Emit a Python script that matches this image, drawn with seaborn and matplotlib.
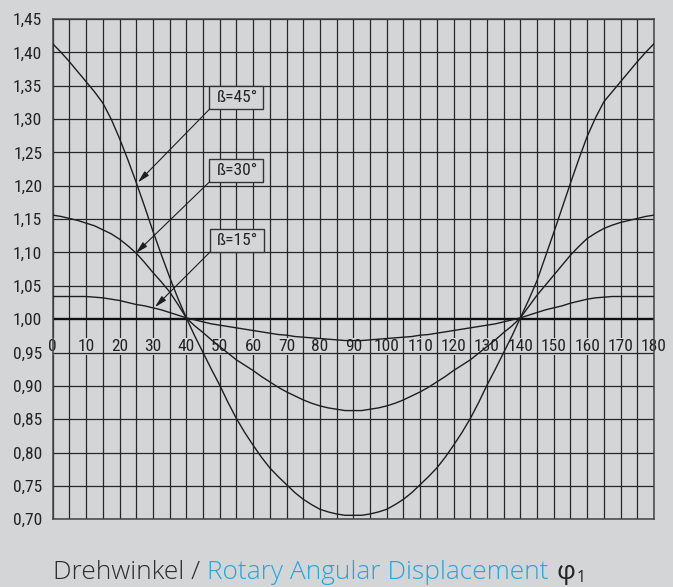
import numpy as np
import pandas as pd
import matplotlib
matplotlib.use("Agg")
import matplotlib.pyplot as plt
from matplotlib import font_manager as fm
from matplotlib.patches import Rectangle
import seaborn as sns

# Drive-shaft angle (degrees), 2.5 degree steps from 0 to 180
phi = [i * 2.5 for i in range(73)]

# Speed ratio for joint angle 45 degrees
ratio_b45 = [1.413, 1.400, 1.386, 1.371, 1.356, 1.341, 1.324, 1.300, 1.271, 1.239,
             1.205, 1.169, 1.132, 1.097, 1.063, 1.031, 1.002, 0.975, 0.950, 0.925,
             0.901, 0.875, 0.851, 0.830, 0.811, 0.793, 0.777, 0.764, 0.752, 0.740,
             0.730, 0.722, 0.715, 0.711, 0.708, 0.706, 0.706,
             0.706, 0.708, 0.711, 0.715, 0.722, 0.730, 0.740, 0.752, 0.764, 0.777,
             0.793, 0.811, 0.830, 0.851, 0.875, 0.901, 0.925, 0.950, 0.975, 1.002,
             1.029, 1.058, 1.094, 1.130, 1.167, 1.204, 1.240, 1.274, 1.302, 1.326,
             1.341, 1.356, 1.371, 1.386, 1.400, 1.413]
# Speed ratio for joint angle 30 degrees
ratio_b30 = [1.156, 1.154, 1.151, 1.148, 1.144, 1.140, 1.134, 1.128, 1.120, 1.110,
             1.099, 1.085, 1.070, 1.056, 1.041, 1.022, 1.002, 0.990, 0.980, 0.969,
             0.959, 0.949, 0.939, 0.931, 0.923, 0.914, 0.906, 0.898, 0.891, 0.885,
             0.879, 0.874, 0.870, 0.867, 0.865, 0.863, 0.863,
             0.863, 0.865, 0.867, 0.870, 0.874, 0.879, 0.885, 0.891, 0.898, 0.906,
             0.914, 0.923, 0.931, 0.939, 0.949, 0.959, 0.969, 0.980, 0.990, 1.002,
             1.019, 1.036, 1.051, 1.066, 1.081, 1.096, 1.109, 1.121, 1.129, 1.136,
             1.141, 1.145, 1.148, 1.151, 1.154, 1.156]
# Speed ratio for joint angle 15 degrees
ratio_b15 = [1.034, 1.034, 1.034, 1.034, 1.034, 1.033, 1.032, 1.030, 1.028, 1.025,
             1.022, 1.020, 1.017, 1.014, 1.010, 1.006, 1.002, 0.999, 0.996, 0.993,
             0.991, 0.989, 0.987, 0.985, 0.983, 0.981, 0.979, 0.977, 0.976, 0.974,
             0.973, 0.972, 0.971, 0.970, 0.969, 0.968, 0.968,
             0.968, 0.969, 0.970, 0.971, 0.972, 0.973, 0.974, 0.976, 0.977, 0.979,
             0.981, 0.983, 0.985, 0.987, 0.989, 0.991, 0.993, 0.996, 0.999, 1.002,
             1.006, 1.010, 1.014, 1.017, 1.020, 1.024, 1.027, 1.030, 1.032, 1.033,
             1.034, 1.034, 1.034, 1.034, 1.034, 1.034]

beta_labels = ["ß=45°", "ß=30°", "ß=15°"]
# label box lower-left corners (deg, ratio) and arrow tips on the curves
label_corner = [(46.9, 1.3146), (46.9, 1.2057), (47.1, 1.1007)]
arrow_tip = [(25.5, 1.205), (24.9, 1.099), (30.6, 1.018)]

x_ticks = list(range(0, 181, 10))
y_ticks = [round(0.70 + 0.05 * i, 2) for i in range(16)]

BG = "#d4d5d6"
INK = "#1e1e1e"

# pick a narrow face for the drawing-style numbers if one is present
_avail = {f.name for f in fm.fontManager.ttflist}
_narrow = [n for n in ["Liberation Sans Narrow", "DejaVu Sans Condensed", "Roboto Condensed",
                       "Open Sans Condensed", "Liberation Sans"] if n in _avail]
NARROW = (_narrow[0] if _narrow else "DejaVu Sans")
NUM_SIZE = 12.5 if NARROW != "Liberation Sans" else 10.5
CAP_FAMILY = [n for n in ["Open Sans", "Roboto", "DejaVu Sans"] if n in _avail] or ["DejaVu Sans"]

sns.set_theme(style="white")
plt.rcParams["font.family"] = [NARROW, "DejaVu Sans"]
plt.rcParams["figure.facecolor"] = BG
plt.rcParams["axes.facecolor"] = BG

df = pd.concat([
    pd.DataFrame({"phi": phi, "ratio": r, "beta": b})
    for r, b in zip([ratio_b45, ratio_b30, ratio_b15], beta_labels)
])

fig = plt.figure(figsize=(6.73, 5.87), dpi=100)
ax = fig.add_axes([52.7 / 673, 1 - 519.3 / 587, (654 - 52.7) / 673, (519.3 - 19) / 587])

sns.lineplot(data=df, x="phi", y="ratio", hue="beta", palette=[INK] * 3,
             legend=False, linewidth=1.0, zorder=3, ax=ax)

ax.set_xlim(0, 180)
ax.set_ylim(0.70, 1.45)
ax.set_xlabel("")
ax.set_ylabel("")

# grid: vertical every 5 deg, horizontal every 0.05
ax.set_xticks(np.arange(0, 181, 5))
ax.set_xticklabels([])
ax.set_yticks(y_ticks)
ax.set_yticklabels([f"{v:.2f}".replace(".", ",") for v in y_ticks], fontsize=NUM_SIZE, color="#222")
ax.set_yticks([v + 0.025 for v in y_ticks[:-1]], minor=True)
ax.tick_params(axis="x", which="both", length=0)
ax.tick_params(axis="y", which="major", length=0, pad=7.5)
ax.tick_params(axis="y", which="minor", direction="inout", length=15, width=1.3, color="#555")
ax.grid(True, which="major", color="#262626", linewidth=0.9)
for v, gl in zip(y_ticks, ax.get_ygridlines()):
    if abs(v - 1.0) < 1e-9:
        gl.set_linewidth(1.7)
        gl.set_color("#111")
ax.xaxis.set_zorder(0.5)
ax.yaxis.set_zorder(1.5)
for s in ax.spines.values():
    s.set_color("#444")
    s.set_linewidth(1.1)

# angle labels sitting on the 1,00 line
for xv in x_ticks:
    ax.text(xv, 0.959, str(xv), ha="center", va="center", fontsize=NUM_SIZE, color="#222",
            zorder=1, bbox=dict(boxstyle="square,pad=0.05", fc=BG, ec="none"))

# joint angle labels with arrows
box_w, box_h = 16.1, 0.035
for lab, (cx, cy), tip in zip(beta_labels, label_corner, arrow_tip):
    ax.add_patch(Rectangle((cx, cy), box_w, box_h, fc=BG, ec="#333", lw=1.0, zorder=4))
    ax.text(cx + box_w / 2 + 0.3, cy + box_h / 2, lab, ha="center", va="center",
            fontsize=NUM_SIZE, color="#222", zorder=5)
    ax.annotate("", xy=tip, xytext=(cx, cy), zorder=4,
                arrowprops=dict(arrowstyle="-|>,head_length=0.6,head_width=0.15",
                                color=INK, lw=0.8, shrinkA=0, shrinkB=0))

# axis caption in two colours with subscripted phi
renderer = fig.canvas.get_renderer()
x0, yb = 53.3 / 673, 1 - 579.3 / 587
cap_weight = "light"
probe = fig.text(0, 0, "Drehwinkel / Rotary Angular Displacement", family=CAP_FAMILY,
                 fontsize=10, fontweight=cap_weight)
cap_size = 10 * 495.0 / probe.get_window_extent(renderer=renderer).width
probe.remove()
cap_font = dict(family=CAP_FAMILY, fontsize=cap_size, fontweight=cap_weight)
parts = [("Drehwinkel / ", "#2c2c2c"), ("Rotary Angular Displacement", "#22a6e0")]
xc = x0
for txt, col in parts:
    t = fig.text(xc, yb, txt, color=col, va="baseline", ha="left", **cap_font)
    xc = t.get_window_extent(renderer=renderer).x1 / fig.bbox.width
t = fig.text(xc + 8 / 673, yb, "φ", color="#222", va="baseline", ha="left",
             family=CAP_FAMILY, fontsize=cap_size)
xc = t.get_window_extent(renderer=renderer).x1 / fig.bbox.width
fig.text(xc + 1 / 673, yb - 3 / 587, "1", color="#222", va="baseline", ha="left",
         family=CAP_FAMILY, fontsize=cap_size * 0.6)

fig.savefig("out.png", dpi=100, facecolor=BG)
